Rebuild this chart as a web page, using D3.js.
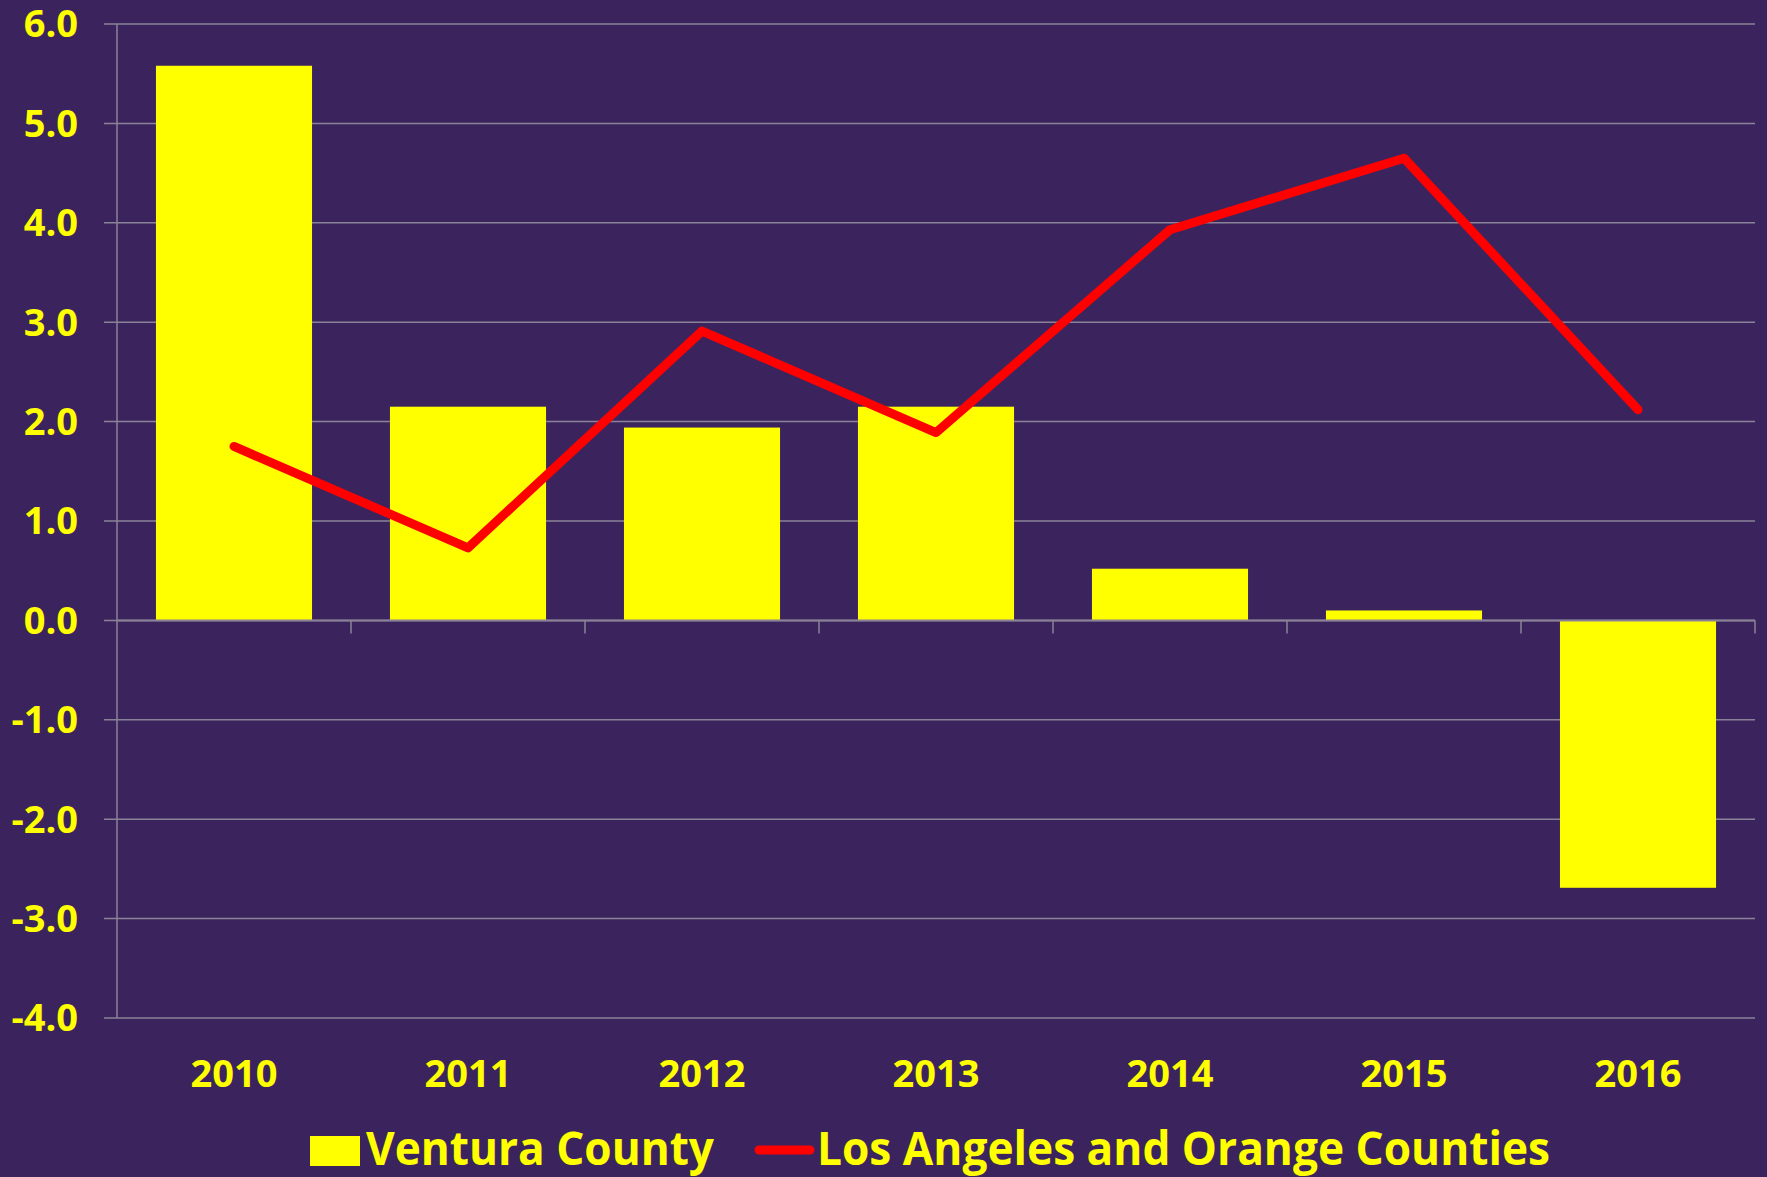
<!DOCTYPE html>
<html>
<head>
<meta charset="utf-8">
<script src="https://cdn.jsdelivr.net/npm/d3@7"></script>
<style>
  body { margin: 0; background: #3b245e; }
  svg { display: block; }
  text { font-family: "Open Sans", sans-serif; font-weight: bold; fill: #ffff00; }
</style>
</head>
<body>
<svg id="chart"></svg>
<script>
// values
var years = ["2010", "2011", "2012", "2013", "2014", "2015", "2016"];
var ventura = [5.58, 2.15, 1.94, 2.15, 0.52, 0.10, -2.69];
var laOrange = [1.75, 0.73, 2.91, 1.89, 3.93, 4.65, 2.12];
var yTicks = [-4, -3, -2, -1, 0, 1, 2, 3, 4, 5, 6];
var legendNames = ["Ventura County", "Los Angeles and Orange Counties"];

function draw() {
  var W = 1767, H = 1177;
  var left = 117, right = 1755, top = 24, bottom = 1018;

  var svg = d3.select("#chart").attr("width", W).attr("height", H);
  svg.append("rect").attr("width", W).attr("height", H).attr("fill", "#3b245e");

  var x = d3.scaleBand().domain(years).range([left, right]).paddingInner(0.333).paddingOuter(0.1665);
  var xBand = d3.scaleBand().domain(years).range([left, right]);
  var y = d3.scaleLinear().domain([-4, 6]).range([bottom, top]);

  // gridlines
  svg.append("g").selectAll("line")
    .data(yTicks)
    .enter().append("line")
      .attr("x1", left - 13).attr("x2", right)
      .attr("y1", d => y(d)).attr("y2", d => y(d))
      .attr("stroke", "#8a8296").attr("stroke-width", 1.5);

  // y axis line
  svg.append("line")
    .attr("x1", left).attr("x2", left)
    .attr("y1", top).attr("y2", bottom)
    .attr("stroke", "#8a8296").attr("stroke-width", 1.5);

  // y labels (plain hyphen for negatives, like the original)
  svg.append("g").selectAll("text")
    .data(yTicks)
    .enter().append("text")
      .attr("x", 78).attr("y", d => y(d))
      .attr("dy", "0.35em")
      .attr("text-anchor", "end")
      .style("font-size", "38px")
      .text(d => d.toFixed(1));

  // bars
  svg.append("g").selectAll("rect")
    .data(years)
    .enter().append("rect")
      .attr("x", d => x(d))
      .attr("width", x.bandwidth())
      .attr("y", (d, i) => y(Math.max(0, ventura[i])))
      .attr("height", (d, i) => Math.abs(y(ventura[i]) - y(0)))
      .attr("fill", "#ffff00");

  // zero axis + ticks between categories
  svg.append("line")
    .attr("x1", left).attr("x2", right)
    .attr("y1", y(0)).attr("y2", y(0))
    .attr("stroke", "#8a8296").attr("stroke-width", 2);
  svg.append("g").selectAll("line")
    .data(years)
    .enter().append("line")
      .attr("x1", d => xBand(d) + xBand.bandwidth()).attr("x2", d => xBand(d) + xBand.bandwidth())
      .attr("y1", y(0)).attr("y2", y(0) + 13)
      .attr("stroke", "#8a8296").attr("stroke-width", 1.5);

  // x labels
  svg.append("g").selectAll("text")
    .data(years)
    .enter().append("text")
      .attr("x", d => xBand(d) + xBand.bandwidth() / 2)
      .attr("y", 1087)
      .attr("text-anchor", "middle")
      .style("font-size", "38px")
      .text(d => d);

  // line
  var line = d3.line()
    .x((d, i) => xBand(years[i]) + xBand.bandwidth() / 2)
    .y(d => y(d));
  svg.append("path")
    .datum(laOrange)
    .attr("d", line)
    .attr("fill", "none")
    .attr("stroke", "#ff0000")
    .attr("stroke-width", 9)
    .attr("stroke-linejoin", "round")
    .attr("stroke-linecap", "round");

  // legend
  var lg = svg.append("g");
  lg.append("rect").attr("x", 310).attr("y", 1136).attr("width", 50).attr("height", 30).attr("fill", "#ffff00");
  lg.append("text").attr("x", 366).attr("y", 1165)
    .style("font-size", "46px")
    .attr("textLength", 348).attr("lengthAdjust", "spacingAndGlyphs")
    .text(legendNames[0]);
  lg.append("line").attr("x1", 759).attr("x2", 810).attr("y1", 1150).attr("y2", 1150)
    .attr("stroke", "#ff0000").attr("stroke-width", 9).attr("stroke-linecap", "round");
  lg.append("text").attr("x", 817).attr("y", 1165)
    .style("font-size", "46px")
    .attr("textLength", 733).attr("lengthAdjust", "spacingAndGlyphs")
    .text(legendNames[1]);
}

draw();
</script>
</body>
</html>
